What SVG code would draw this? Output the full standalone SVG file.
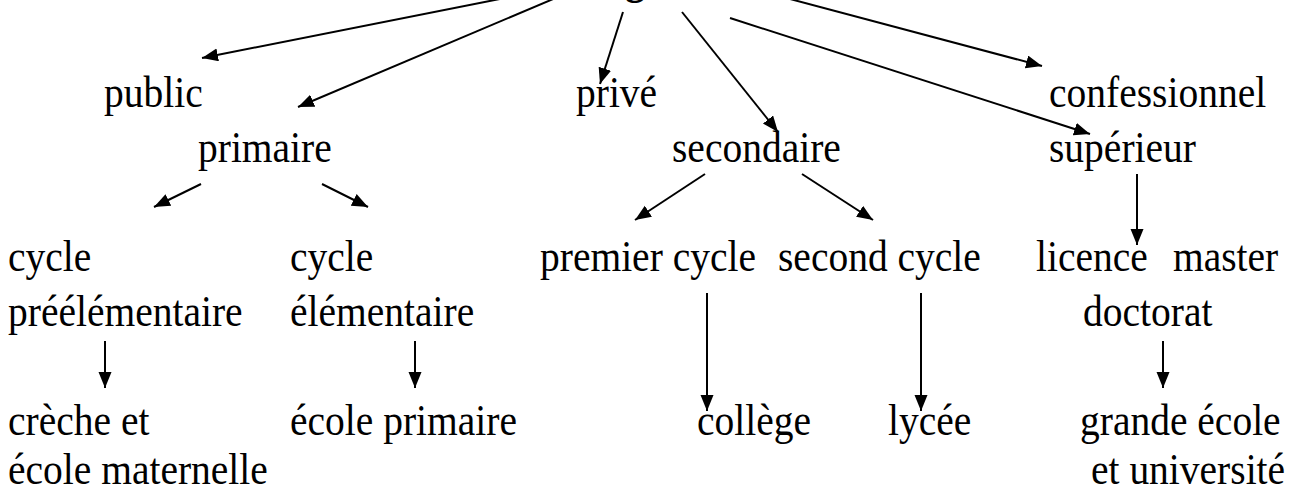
<svg xmlns="http://www.w3.org/2000/svg" width="1298" height="493" viewBox="0 0 1298 493">
<style>
text{font-family:"Liberation Serif","Times New Roman",serif;font-size:39.5px;fill:#000}
.title{font-weight:bold}
.c{stroke:#000;stroke-width:2;fill:none;marker-end:url(#ah)}
</style>
<defs>
<marker id="ah" markerUnits="userSpaceOnUse" markerWidth="17" markerHeight="14" refX="16" refY="6.5" orient="auto">
<path d="M0,0 L16,6.5 L0,13 z" fill="#000"/>
</marker>
</defs>
<rect width="1298" height="493" fill="#fff"/>
<g id="n-root"><text class="title" transform="translate(542 -6) scale(1 1.1)">enseignement</text></g>
<g id="n-public"><text transform="translate(104 107) scale(1 1.1)">public</text></g>
<g id="n-prive"><text transform="translate(576 107) scale(1 1.1)">privé</text></g>
<g id="n-confessionnel"><text transform="translate(1049 107) scale(1 1.1)">confessionnel</text></g>
<g id="n-primaire"><text transform="translate(198 162) scale(1 1.1)">primaire</text></g>
<g id="n-secondaire"><text transform="translate(672 162) scale(1 1.1)">secondaire</text></g>
<g id="n-superieur"><text transform="translate(1049 162) scale(1 1.1)">supérieur</text></g>
<g id="n-cycle-pre"><text transform="translate(8 271) scale(1 1.1)">cycle</text><text transform="translate(8 326) scale(1 1.1)">préélémentaire</text></g>
<g id="n-cycle-elem"><text transform="translate(290 271) scale(1 1.1)">cycle</text><text transform="translate(290 326) scale(1 1.1)">élémentaire</text></g>
<g id="n-premier"><text transform="translate(540 271) scale(1 1.1)">premier cycle</text></g>
<g id="n-second"><text transform="translate(778 271) scale(1 1.1)">second cycle</text></g>
<g id="n-diplomes"><text transform="translate(1036 271) scale(1 1.1)">licence</text><text transform="translate(1173 271) scale(1 1.1)">master</text><text transform="translate(1083 326) scale(1 1.1)">doctorat</text></g>
<g id="n-creche"><text transform="translate(8 435) scale(1 1.1)">crèche et</text><text transform="translate(8 484) scale(1 1.1)">école maternelle</text></g>
<g id="n-ecole-primaire"><text transform="translate(290 435) scale(1 1.1)">école primaire</text></g>
<g id="n-college"><text transform="translate(697 435) scale(1 1.1)">collège</text></g>
<g id="n-lycee"><text transform="translate(888 435) scale(1 1.1)">lycée</text></g>
<g id="n-grande-ecole"><text transform="translate(1080 435) scale(1 1.1)">grande école</text><text transform="translate(1091 484) scale(1 1.1)">et université</text></g>
<g id="connectors">
<line class="c" x1="525" y1="-6" x2="202" y2="58"/>
<line class="c" x1="565" y1="-6" x2="298" y2="107"/>
<line class="c" x1="623" y1="12" x2="600" y2="84"/>
<line class="c" x1="682" y1="12" x2="778" y2="132"/>
<line class="c" x1="730" y1="18" x2="1090" y2="134"/>
<line class="c" x1="775" y1="-5" x2="1042" y2="66"/>
<line class="c" x1="201" y1="184" x2="154" y2="207"/>
<line class="c" x1="322" y1="184" x2="368" y2="207"/>
<line class="c" x1="705" y1="174" x2="635" y2="220"/>
<line class="c" x1="802" y1="174" x2="873" y2="220"/>
<line class="c" x1="1137" y1="174" x2="1137" y2="245"/>
<line class="c" x1="105" y1="341" x2="105" y2="388"/>
<line class="c" x1="415" y1="341" x2="415" y2="388"/>
<line class="c" x1="707" y1="293" x2="707" y2="411"/>
<line class="c" x1="921" y1="293" x2="921" y2="411"/>
<line class="c" x1="1163" y1="341" x2="1163" y2="388"/>
</g>
</svg>
